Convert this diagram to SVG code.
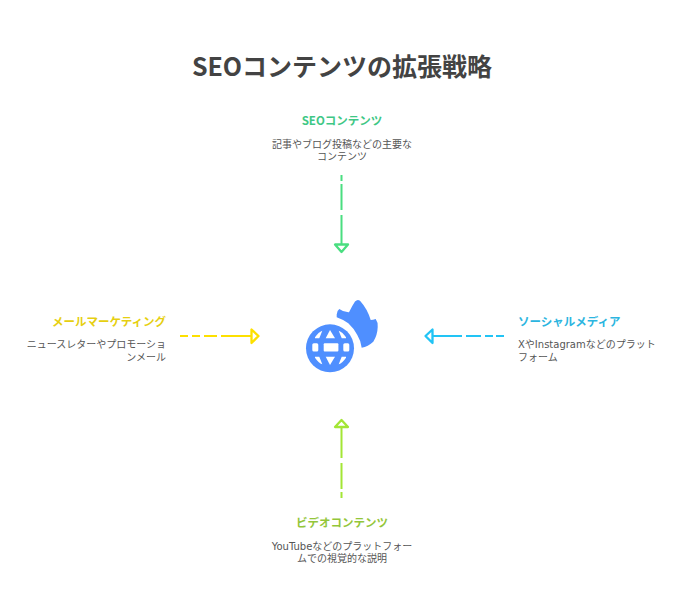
<svg xmlns="http://www.w3.org/2000/svg" width="684" height="612" viewBox="0 0 684 612">
<style>
text{font-family:"Noto Sans CJK JP","Noto Sans",sans-serif}
.title{font-size:25px;font-weight:700;fill:#434343;text-anchor:middle}
.h{font-size:11.5px;font-weight:700}
.d{font-size:10px;fill:#555;font-family:"DejaVu Sans","Noto Sans CJK JP",sans-serif}
.m{text-anchor:middle}.e{text-anchor:end}
.c{fill:none;stroke-width:2}
.a{fill:#fff;stroke-width:2.300;stroke-linejoin:round}
</style>
<rect width="684" height="612" fill="#fff"/>
<text class="title" x="342" y="76">SEOコンテンツの拡張戦略</text>
<g id="connectors">
<path class="c" stroke="#4ade80" stroke-dasharray="6 3 26 5 100 0" d="M341.500 175V244"/>
<polygon class="a" stroke="#4ade80" points="335,244.500 348,244.500 341.500,252"/>
<path class="c" stroke="#fde000" stroke-dasharray="8 4 8 4 13 4 100 0" d="M180 336H251"/>
<polygon class="a" stroke="#fde000" points="251.500,329.500 251.500,343 258.500,336"/>
<path class="c" stroke="#22c4f5" stroke-dasharray="8 3 8 4 15 4 100 0" d="M504 336H433"/>
<polygon class="a" stroke="#22c4f5" points="432.500,329.500 432.500,343 425.500,336"/>
<path class="c" stroke="#a3e635" stroke-dasharray="6 3 26 5 100 0" d="M341.500 498V427"/>
<polygon class="a" stroke="#a3e635" points="335,427 348,427 341.500,420"/>
</g>
<g id="node-center">
<path fill="#4f8fff" d="M336.700 314.500Q337 310.500 339.300 309Q344 312.500 349 312.300Q352 306 355 301.500Q357.500 298.800 360 300.700Q367.500 309 370.700 320Q373 320 375.700 319Q378 322 377.700 327Q377.500 335 373.300 341.700Q368 346.500 361.700 347.700Q361 341 357.300 335Q353.500 328 348.300 323.300Q343 319.500 336.700 317.300Z"/>
<circle cx="330" cy="348.300" r="24" fill="#4f8fff"/>
<g fill="#fff">
<rect x="323.700" y="343.300" width="14.700" height="8.300" rx="1"/>
<rect x="312.300" y="343.300" width="6" height="8.300" rx="1.500"/>
<rect x="343.300" y="343.300" width="6" height="8.300" rx="1.500"/>
<polygon points="330,330 325.700,338.300 335,338.300"/>
<polygon points="325.700,356.700 335,356.700 330,365"/>
<path d="M315 337.300Q318.500 332 322.300 330.700L319.300 338.300H315Z"/>
<path d="M346 337.300Q342.500 332 338.700 330.700L341.700 338.300H346Z"/>
<path d="M315 357.700Q318.500 363 322.300 364.300L319.300 356.700H315Z"/>
<path d="M346 357.700Q342.500 363 338.700 364.300L341.700 356.700H346Z"/>
</g>
</g>
<g id="node-seo">
<text class="h m" x="342" y="125" fill="#3ec785">SEOコンテンツ</text>
<text class="d m" x="342" y="148">記事やブログ投稿などの主要な</text>
<text class="d m" x="342" y="160">コンテンツ</text>
</g>
<g id="node-mail">
<text class="h e" x="166" y="326" fill="#e6cf10">メールマーケティング</text>
<text class="d e" x="166" y="348">ニュースレターやプロモーショ</text>
<text class="d e" x="166" y="361">ンメール</text>
</g>
<g id="node-social">
<text class="h" x="518" y="326" fill="#2bb5e0">ソーシャルメディア</text>
<text class="d" x="518" y="348">XやInstagramなどのプラット</text>
<text class="d" x="518" y="361">フォーム</text>
</g>
<g id="node-video">
<text class="h m" x="342" y="527" fill="#93c63a">ビデオコンテンツ</text>
<text class="d m" x="342" y="550">YouTubeなどのプラットフォー</text>
<text class="d m" x="342" y="562">ムでの視覚的な説明</text>
</g>
</svg>
